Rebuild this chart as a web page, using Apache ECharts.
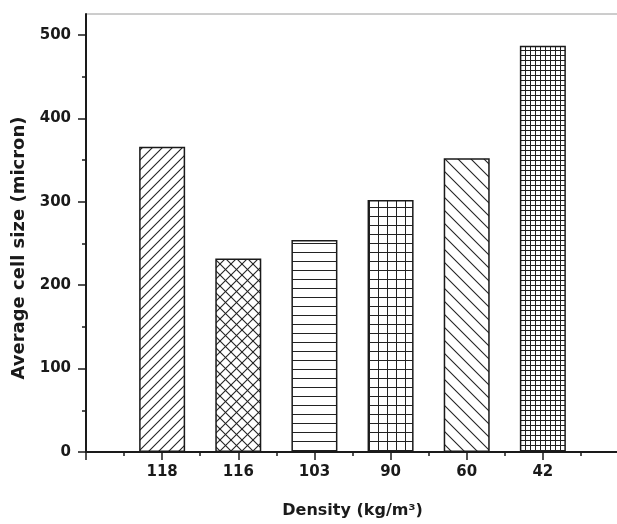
<!DOCTYPE html>
<html>
<head>
<meta charset="utf-8">
<script src="https://cdn.jsdelivr.net/npm/echarts@6/dist/echarts.min.js"></script>
<style>
  html, body { margin: 0; padding: 0; background: #fff; }
  #chart { width: 617px; height: 524px; }
</style>
</head>
<body>
<div id="chart"></div>
<script>
// ---- data ----
const categories = ['118', '116', '103', '90', '60', '42'];
const cellSize = [366, 232, 254, 302, 352, 487];
const yTickValues = [0, 100, 200, 300, 400, 500];
const patternKinds = ['fwd', 'cross', 'horiz', 'grid', 'back', 'fine'];

// ---- hatch patterns ----
function makePattern(kind) {
  const sizes = { fwd: 10, back: 13, cross: 11, horiz: 9, grid: 9, fine: 5 };
  const s = sizes[kind];
  const c = document.createElement('canvas');
  c.width = s; c.height = s;
  const g = c.getContext('2d');
  g.fillStyle = '#fff';
  g.fillRect(0, 0, s, s);
  g.strokeStyle = '#222';
  g.fillStyle = '#222';
  g.lineWidth = 1.1;
  function line(x1, y1, x2, y2) { g.beginPath(); g.moveTo(x1, y1); g.lineTo(x2, y2); g.stroke(); }
  if (kind === 'fwd' || kind === 'cross') {
    line(-1, s + 1, s + 1, -1);
    line(-1, 1, 1, -1);
    line(s - 1, s + 1, s + 1, s - 1);
  }
  if (kind === 'back' || kind === 'cross') {
    line(-1, -1, s + 1, s + 1);
    line(s - 1, -1, s + 1, 1);
    line(-1, s - 1, 1, s + 1);
  }
  if (kind === 'horiz' || kind === 'grid' || kind === 'fine') {
    g.fillRect(0, 0, s, 1);
  }
  if (kind === 'grid' || kind === 'fine') {
    g.fillRect(0, 0, 1, s);
  }
  return { image: c, repeat: 'repeat' };
}

const seriesData = categories.map((c, i) => ({
  value: [i + 1, cellSize[i]],
  itemStyle: { color: makePattern(patternKinds[i]) }
}));

const font = 'DejaVu Sans';
const txt = '#1a1a1a';

const chart = echarts.init(document.getElementById('chart'), null, { renderer: 'canvas' });
chart.setOption({
  animation: false,
  backgroundColor: '#fff',
  grid: {
    left: 86, right: -2, top: 14, bottom: 72,
    show: true, borderColor: '#9a9a9a', borderWidth: 1,
    containLabel: false, outerBoundsMode: 'none'
  },
  xAxis: {
    type: 'value',
    min: 0, max: 7, interval: 1,
    name: 'Density (kg/m³)',
    nameLocation: 'middle',
    nameGap: 51,
    nameTextStyle: { fontFamily: font, fontWeight: 'bold', fontSize: 16, color: txt },
    axisLine: { show: true, lineStyle: { color: txt, width: 2 } },
    axisTick: { show: true, length: 8, inside: false, lineStyle: { color: txt, width: 1.5 } },
    minorTick: { show: true, splitNumber: 2, length: 4, lineStyle: { color: txt, width: 1.5 } },
    splitLine: { show: false },
    axisLabel: {
      margin: 13,
      fontFamily: font, fontWeight: 'bold', fontSize: 15, color: txt,
      formatter: v => (v >= 1 && v <= categories.length) ? categories[v - 1] : ''
    }
  },
  yAxis: {
    type: 'value',
    min: 0, max: 525, interval: 100,
    name: 'Average cell size (micron)',
    nameLocation: 'middle',
    nameGap: 54,
    nameTextStyle: { fontFamily: font, fontWeight: 'bold', fontSize: 18, color: txt, padding: [0, 30, 0, 0] },
    axisLine: { show: true, lineStyle: { color: txt, width: 2 } },
    axisTick: { show: true, length: 8, inside: false, customValues: yTickValues, lineStyle: { color: txt, width: 1.5 } },
    minorTick: { show: true, splitNumber: 2, length: 4, lineStyle: { color: txt, width: 1.5 } },
    splitLine: { show: false },
    axisLabel: {
      margin: 15,
      customValues: yTickValues,
      fontFamily: font, fontWeight: 'bold', fontSize: 15, color: txt
    }
  },
  series: [{
    type: 'bar',
    barWidth: 46,
    data: seriesData,
    itemStyle: { borderColor: '#1a1a1a', borderWidth: 1.5 }
  }]
});
</script>
</body>
</html>
